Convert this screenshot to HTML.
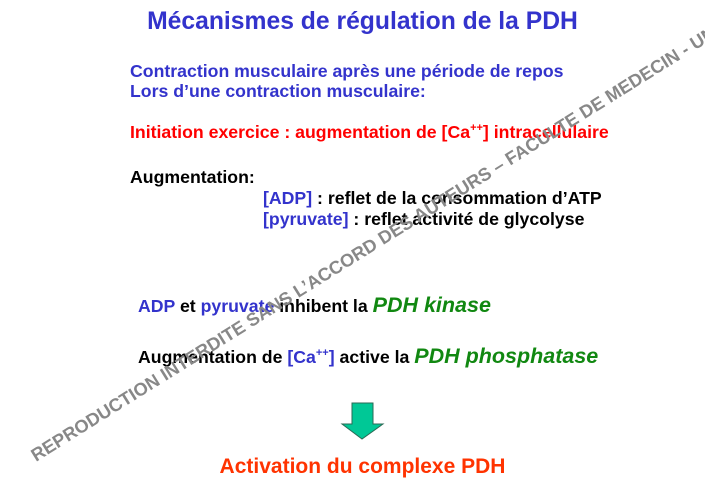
<!DOCTYPE html>
<html><head><meta charset="utf-8"><style>
body{margin:0;width:705px;height:490px;background:#fff;position:relative;overflow:hidden;font-family:"Liberation Sans",sans-serif;font-weight:bold}
.t{position:absolute;white-space:nowrap;line-height:1}
.b{color:#3333cc}.k{color:#000}.r{color:#ff0000}
.g{color:#118811;font-style:italic;font-size:21.5px}
sup{font-size:11px;vertical-align:7px;line-height:0}
</style></head><body>
<div class="t b" style="left:0;width:725px;text-align:center;top:10px;font-size:24.7px">Mécanismes de régulation de la PDH</div>
<div class="t b" style="left:130px;top:63px;font-size:17.7px">Contraction musculaire après une période de repos</div>
<div class="t b" style="left:130px;top:83px;font-size:17.7px">Lors d’une contraction musculaire:</div>
<div class="t r" style="left:130px;top:124px;font-size:17.7px">Initiation exercice : augmentation de [Ca<sup>++</sup>] intracellulaire</div>
<div class="t k" style="left:130px;top:169px;font-size:17.7px">Augmentation:</div>
<div class="t k" style="left:263px;top:190px;font-size:17.7px"><span class="b">[ADP]</span> : reflet de la consommation d’ATP</div>
<div class="t k" style="left:263px;top:211px;font-size:17.7px"><span class="b">[pyruvate]</span> : reflet activité de glycolyse</div>
<div class="t k" style="left:138px;top:295px;font-size:17.7px"><span class="b">ADP</span> et <span class="b">pyruvate</span> inhibent la <span class="g">PDH kinase</span></div>
<div class="t k" style="left:138px;top:346px;font-size:17.7px">Augmentation de <span class="b">[Ca<sup>++</sup>]</span> active la <span class="g">PDH phosphatase</span></div>
<svg style="position:absolute;left:0;top:0" width="705" height="490">
<polygon points="352,403 373,403 373,424 383,424 362,439 342,424 352,424" fill="#00c896" stroke="#2a6a55" stroke-width="1"/>
<text x="0" y="0" transform="translate(36,462) rotate(-32)" font-family="Liberation Sans" font-weight="bold" font-size="18.2" fill="#888">REPRODUCTION INTERDITE SANS L’ACCORD DES AUTEURS – FACULTE DE MEDECIN - UNS</text>
</svg>
<div class="t" style="left:0;width:725px;text-align:center;top:456px;font-size:21px;color:#ff3300">Activation du complexe PDH</div>
</body></html>
